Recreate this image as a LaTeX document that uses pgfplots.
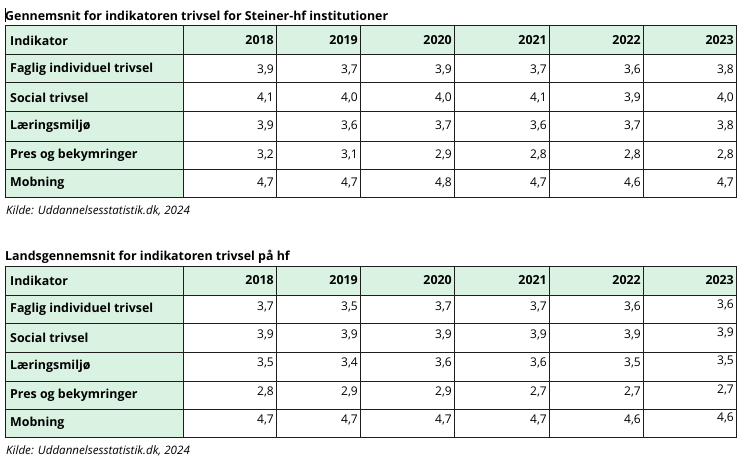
\documentclass[border=0pt]{standalone}
\usepackage{pgfplots}
\pgfplotsset{compat=1.18}
\usepackage{pgfplotstable}
\usepackage{fontspec}
\setmainfont{Open Sans}
\definecolor{hdr}{HTML}{D9F2E2}
\definecolor{gridc}{HTML}{1E1E1E}

% Steiner-hf
\pgfplotstableread{
row y2018 y2019 y2020 y2021 y2022 y2023
0 3.9 3.7 3.9 3.7 3.6 3.8
1 4.1 4.0 4.0 4.1 3.9 4.0
2 3.9 3.6 3.7 3.6 3.7 3.8
3 3.2 3.1 2.9 2.8 2.8 2.8
4 4.7 4.7 4.8 4.7 4.6 4.7
}\steiner

% Landsgennemsnit
\pgfplotstableread{
row y2018 y2019 y2020 y2021 y2022 y2023
0 3.7 3.5 3.7 3.7 3.6 3.6
1 3.9 3.9 3.9 3.9 3.9 3.9
2 3.5 3.4 3.6 3.6 3.5 3.5
3 2.8 2.9 2.9 2.7 2.7 2.7
4 4.7 4.7 4.7 4.7 4.6 4.6
}\lands

\newcommand{\fs}{\fontsize{12.4bp}{14bp}\selectfont}
\newcommand{\fv}{\fontsize{12bp}{14bp}\selectfont}

\begin{document}
\begin{tikzpicture}[font=\fs]
\begin{axis}[scale only axis, width=749bp, height=467bp,
  xmin=0, xmax=749, ymin=0, ymax=467, y dir=reverse,
  hide axis, clip=false,
  /pgf/number format/.cd, use comma, fixed, fixed zerofill, precision=1, assume math mode=true,
  /pgfplots/.cd,
  every node near coord/.append style={anchor=east, inner sep=0pt, font=\fv, text=black},
]
\fill[white] (axis cs:0,0) rectangle (axis cs:749,467);

% ---------- table frames ----------
\pgfplotsinvokeforeach{0,240}{
  \fill[hdr] (axis cs:5,26+#1) rectangle (axis cs:736,55+#1);
  \fill[hdr] (axis cs:5,26+#1) rectangle (axis cs:183,197+#1);
  \draw[gridc, line width=1bp] (axis cs:5,26+#1) rectangle (axis cs:736,197+#1);
  \draw[gridc, line width=1bp] (axis cs:5,55+#1) -- (axis cs:736,55+#1);
  \draw[gridc, line width=1bp] (axis cs:5,83+#1) -- (axis cs:736,83+#1);
  \draw[gridc, line width=1bp] (axis cs:5,112+#1) -- (axis cs:736,112+#1);
  \draw[gridc, line width=1bp] (axis cs:5,141+#1) -- (axis cs:736,141+#1);
  \draw[gridc, line width=1bp] (axis cs:5,169+#1) -- (axis cs:736,169+#1);
  \draw[gridc, line width=1bp] (axis cs:183,26+#1) -- (axis cs:183,197+#1);
  \draw[gridc, line width=1bp] (axis cs:276,26+#1) -- (axis cs:276,197+#1);
  \draw[gridc, line width=1bp] (axis cs:360,26+#1) -- (axis cs:360,197+#1);
  \draw[gridc, line width=1bp] (axis cs:454,26+#1) -- (axis cs:454,197+#1);
  \draw[gridc, line width=1bp] (axis cs:549,26+#1) -- (axis cs:549,197+#1);
  \draw[gridc, line width=1bp] (axis cs:643,26+#1) -- (axis cs:643,197+#1);
  % header
  \node[anchor=west, inner sep=0pt, font=\fs\bfseries] at (axis cs:10,40.5+#1) {Indikator};
  \node[anchor=east, inner sep=0pt, font=\fs\bfseries] at (axis cs:274,40.5+#1) {2018};
  \node[anchor=east, inner sep=0pt, font=\fs\bfseries] at (axis cs:358,40.5+#1) {2019};
  \node[anchor=east, inner sep=0pt, font=\fs\bfseries] at (axis cs:452,40.5+#1) {2020};
  \node[anchor=east, inner sep=0pt, font=\fs\bfseries] at (axis cs:547,40.5+#1) {2021};
  \node[anchor=east, inner sep=0pt, font=\fs\bfseries] at (axis cs:641,40.5+#1) {2022};
  \node[anchor=east, inner sep=0pt, font=\fs\bfseries] at (axis cs:734,40.5+#1) {2023};
  % row labels
  \node[anchor=west, inner sep=0pt, font=\fs\bfseries] at (axis cs:10,69.5+#1) {Faglig individuel trivsel};
  \node[anchor=west, inner sep=0pt, font=\fs\bfseries] at (axis cs:10,97.5+#1) {Social trivsel};
  \node[anchor=west, inner sep=0pt, font=\fs\bfseries] at (axis cs:10,126.5+#1) {Læringsmiljø};
  \node[anchor=west, inner sep=0pt, font=\fs\bfseries] at (axis cs:10,155+#1) {Pres og bekymringer};
  \node[anchor=west, inner sep=0pt, font=\fs\bfseries] at (axis cs:10,183+#1) {Mobning};
  % source
  \node[anchor=west, inner sep=0pt, font=\fontsize{11.6bp}{13bp}\selectfont\itshape] at (axis cs:6,211+#1) {Kilde: Uddannelsesstatistik.dk, 2024};
}

% titles
\node[anchor=west, inner sep=0pt, font=\fs\bfseries] at (axis cs:5,16) {Gennemsnit for indikatoren trivsel for Steiner-hf institutioner};
\node[anchor=west, inner sep=0pt, font=\fs\bfseries] at (axis cs:5,256.5) {Landsgennemsnit for indikatoren trivsel på hf};
\draw[black, line width=0.8bp] (axis cs:5.5,8) -- (axis cs:5.5,22);

% ---------- values, table 1 ----------
\addplot[draw=none, mark=none, nodes near coords, point meta=explicit]
  table[x expr=274, y expr={69.5+28.4*\thisrow{row}}, meta=y2018] {\steiner};
\addplot[draw=none, mark=none, nodes near coords, point meta=explicit]
  table[x expr=358, y expr={69.5+28.4*\thisrow{row}}, meta=y2019] {\steiner};
\addplot[draw=none, mark=none, nodes near coords, point meta=explicit]
  table[x expr=452, y expr={69.5+28.4*\thisrow{row}}, meta=y2020] {\steiner};
\addplot[draw=none, mark=none, nodes near coords, point meta=explicit]
  table[x expr=547, y expr={69.5+28.4*\thisrow{row}}, meta=y2021] {\steiner};
\addplot[draw=none, mark=none, nodes near coords, point meta=explicit]
  table[x expr=641, y expr={69.5+28.4*\thisrow{row}}, meta=y2022] {\steiner};
\addplot[draw=none, mark=none, nodes near coords, point meta=explicit]
  table[x expr=734, y expr={69.5+28.4*\thisrow{row}}, meta=y2023] {\steiner};

% ---------- values, table 2 ----------
\addplot[draw=none, mark=none, nodes near coords, point meta=explicit]
  table[x expr=274, y expr={306.5+28.4*\thisrow{row}}, meta=y2018] {\lands};
\addplot[draw=none, mark=none, nodes near coords, point meta=explicit]
  table[x expr=358, y expr={306.5+28.4*\thisrow{row}}, meta=y2019] {\lands};
\addplot[draw=none, mark=none, nodes near coords, point meta=explicit]
  table[x expr=452, y expr={306.5+28.4*\thisrow{row}}, meta=y2020] {\lands};
\addplot[draw=none, mark=none, nodes near coords, point meta=explicit]
  table[x expr=547, y expr={306.5+28.4*\thisrow{row}}, meta=y2021] {\lands};
\addplot[draw=none, mark=none, nodes near coords, point meta=explicit]
  table[x expr=641, y expr={306.5+28.4*\thisrow{row}}, meta=y2022] {\lands};
\addplot[draw=none, mark=none, nodes near coords, point meta=explicit]
  table[x expr=734, y expr={304.5+28.4*\thisrow{row}}, meta=y2023] {\lands};
\end{axis}
\end{tikzpicture}
\end{document}
